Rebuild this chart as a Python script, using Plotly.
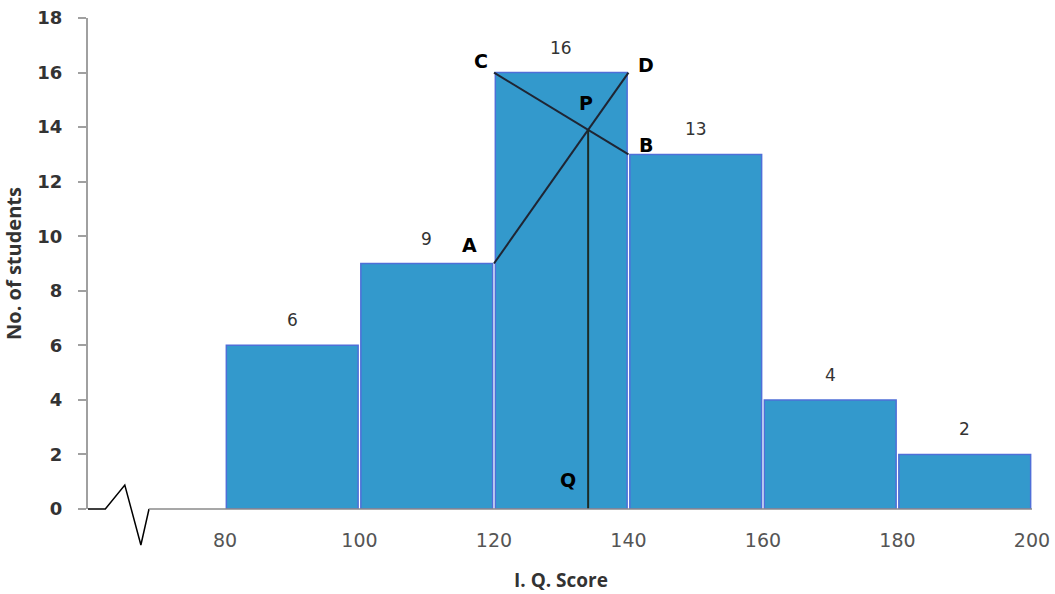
import plotly.graph_objects as go

# Class intervals and frequencies
bin_left = [80, 100, 120, 140, 160, 180]
bin_width = 20
frequencies = [6, 9, 16, 13, 4, 2]

# Construction points for the mode (A, B, C, D)
point_names = ["A", "B", "C", "D"]
point_x = [120, 140, 120, 140]
point_y = [9, 13, 16, 16]

x_ticks = [80, 100, 120, 140, 160, 180, 200]
y_ticks = list(range(0, 20, 2))

x_range = [59.63, 200.3]
y_range = [0, 18]

bar_color = "#3399cc"

centers = [b + bin_width / 2 for b in bin_left]

fig = go.Figure()

fig.add_trace(go.Bar(
    x=centers, y=frequencies, width=bin_width * 0.98,
    marker=dict(color=bar_color, line=dict(color="#4f6fd8", width=1.5)),
    hoverinfo="skip", showlegend=False,
))

# frequency labels above bars
for c, f in zip(centers, frequencies):
    fig.add_annotation(x=c, y=f, text=str(f), showarrow=False, yshift=25,
                       font=dict(family="DejaVu Sans", size=17, color="#333333"))

# intersection P of AD and CB
ax, ay = point_x[0], point_y[0]
bx, by = point_x[1], point_y[1]
cx, cy = point_x[2], point_y[2]
dx, dy = point_x[3], point_y[3]
m1 = (dy - ay) / (dx - ax)
m2 = (by - cy) / (bx - cx)
px = (cy - ay + m1 * ax - m2 * cx) / (m1 - m2)
py = ay + m1 * (px - ax)

line_style = dict(color="#1f2533", width=2)
fig.add_trace(go.Scatter(x=[ax, dx], y=[ay, dy], mode="lines", line=line_style,
                         showlegend=False, hoverinfo="skip"))
fig.add_trace(go.Scatter(x=[cx, bx], y=[cy, by], mode="lines", line=line_style,
                         showlegend=False, hoverinfo="skip"))
fig.add_trace(go.Scatter(x=[px, px], y=[py, 0], mode="lines",
                         line=dict(color="#1c2b26", width=2),
                         showlegend=False, hoverinfo="skip"))

label_font = dict(family="DejaVu Sans", size=19, color="black")
offsets = {"A": (-24, 19), "B": (18, 9), "C": (-13, 12), "D": (18, 8)}
for name, xx, yy in zip(point_names, point_x, point_y):
    ox, oy = offsets[name]
    fig.add_annotation(x=xx, y=yy, text="<b>%s</b>" % name, showarrow=False,
                       xshift=ox, yshift=oy, font=label_font)
fig.add_annotation(x=px, y=py, text="<b>P</b>", showarrow=False,
                   xshift=-2, yshift=27, font=label_font)
fig.add_annotation(x=px, y=1, text="<b>Q</b>", showarrow=False,
                   xshift=-20, yshift=2, font=label_font)


# axis break (zigzag) drawn in domain fractions so it is not clipped
def fx(v):
    return (v - x_range[0]) / (x_range[1] - x_range[0])


def fy(v):
    return (v - y_range[0]) / (y_range[1] - y_range[0])


zig_x = [x_range[0], 62.2, 65.1, 67.5, 68.7]
zig_y = [0, 0, 0.88, -1.32, 0]
path = "M " + " L ".join("%.4f,%.4f" % (fx(a), fy(b)) for a, b in zip(zig_x, zig_y))
fig.add_shape(type="path", path=path, xref="x domain", yref="y domain",
              line=dict(color="black", width=1.5))
fig.add_shape(type="line", x0=fx(zig_x[-1]), x1=fx(200), y0=0, y1=0,
              xref="x domain", yref="y domain", line=dict(color="#8a8a8a", width=1.5))

fig.update_layout(
    width=1055, height=594,
    margin=dict(l=88, r=21, t=18, b=85),
    plot_bgcolor="white", paper_bgcolor="white",
    xaxis=dict(
        range=x_range, tickvals=x_ticks, showgrid=False, zeroline=False,
        showline=False, ticks="outside", ticklen=14, tickcolor="rgba(0,0,0,0)",
        automargin=False, ticklabeloverflow="allow",
        tickfont=dict(family="DejaVu Sans", size=19, color="#555555"),
        title=dict(text="<b>I. Q. Score</b>", standoff=23,
                   font=dict(family="Open Sans", size=19, color="#333333")),
    ),
    yaxis=dict(
        range=y_range, tickvals=y_ticks, showgrid=False, zeroline=False,
        showline=True, linecolor="#a0a0a0", linewidth=2,
        ticks="outside", ticklen=8, tickcolor="#a0a0a0", tickwidth=2,
        ticklabelstandoff=12, automargin=False, ticklabeloverflow="allow",
        tickfont=dict(family="DejaVu Sans", size=18, color="#333333", weight="bold"),
        title=dict(text="<b>No. of students</b>", standoff=23,
                   font=dict(family="Open Sans", size=20, color="#333333")),
    ),
)

# drop the default page margin so the figure fills the window exactly
fig.write_html("out.html", config={"displayModeBar": False},
               post_script="document.body.style.margin = '0';")
